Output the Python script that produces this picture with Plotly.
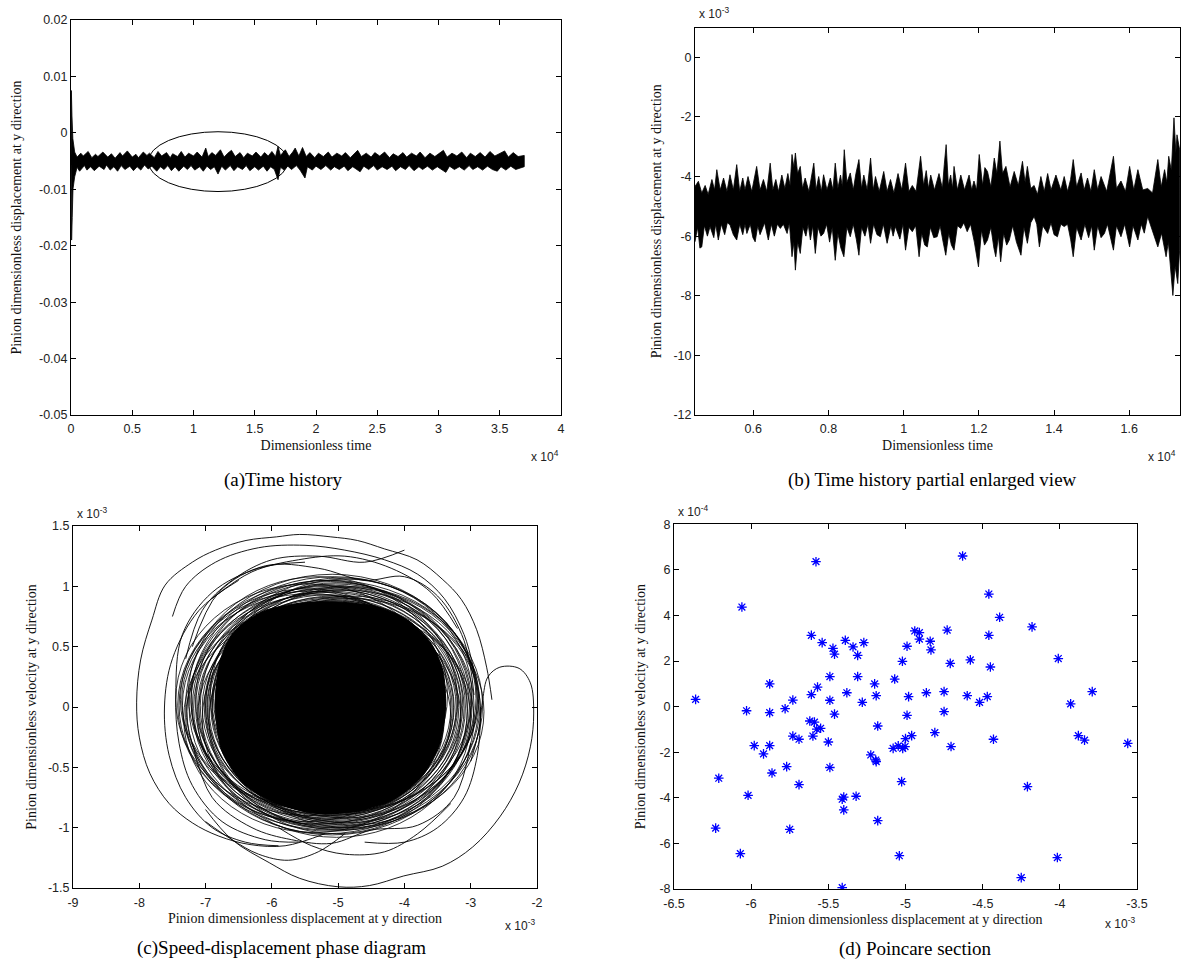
import plotly.graph_objects as go

W, H = 1186, 965

# ---------------- (a) time history : envelope of the signal (time in 1e4) ----------------
a_upper = [(0.000, -0.0050), (0.003, 0.0075), (0.008, 0.0030), (0.015, -0.0010), (0.030, -0.0034),
           (0.05, -0.0043), (0.08, -0.0036), (0.10, -0.0041), (0.14, -0.0033), (0.17, -0.0044),
           (0.20, -0.0038), (0.22, -0.0042), (0.26, -0.0034), (0.30, -0.0043), (0.33, -0.0037),
           (0.36, -0.0045), (0.40, -0.0035), (0.42, -0.0041), (0.46, -0.0032), (0.50, -0.0043),
           (0.53, -0.0038), (0.55, -0.0044), (0.59, -0.0034), (0.62, -0.0040), (0.64, -0.0036),
           (0.68, -0.0044), (0.71, -0.0033), (0.74, -0.0041), (0.78, -0.0035), (0.81, -0.0044),
           (0.83, -0.0037), (0.87, -0.0042), (0.90, -0.0033), (0.93, -0.0043), (0.96, -0.0036),
           (1.00, -0.0041), (1.03, -0.0034), (1.07, -0.0043), (1.10, -0.0027), (1.12, -0.0042),
           (1.15, -0.0035), (1.18, -0.0040), (1.22, -0.0030), (1.25, -0.0043), (1.28, -0.0036),
           (1.31, -0.0031), (1.34, -0.0042), (1.38, -0.0035), (1.41, -0.0044), (1.44, -0.0036),
           (1.48, -0.0041), (1.51, -0.0034), (1.55, -0.0043), (1.58, -0.0035), (1.61, -0.0041),
           (1.64, -0.0033), (1.67, -0.0042), (1.69, -0.0024), (1.71, -0.0040), (1.75, -0.0030),
           (1.78, -0.0042), (1.81, -0.0034), (1.83, -0.0027), (1.86, -0.0041), (1.89, -0.0026),
           (1.92, -0.0042), (1.95, -0.0035), (1.99, -0.0044), (2.02, -0.0036), (2.06, -0.0042),
           (2.10, -0.0034), (2.13, -0.0043), (2.17, -0.0036), (2.21, -0.0041), (2.24, -0.0035),
           (2.28, -0.0044), (2.31, -0.0037), (2.34, -0.0031), (2.37, -0.0042), (2.41, -0.0036),
           (2.45, -0.0043), (2.48, -0.0035), (2.52, -0.0041), (2.56, -0.0034), (2.60, -0.0044),
           (2.63, -0.0037), (2.67, -0.0042), (2.71, -0.0035), (2.74, -0.0043), (2.78, -0.0036),
           (2.82, -0.0041), (2.85, -0.0034), (2.89, -0.0044), (2.93, -0.0036), (2.97, -0.0042),
           (3.01, -0.0035), (3.04, -0.0031), (3.07, -0.0043), (3.11, -0.0036), (3.15, -0.0041),
           (3.19, -0.0034), (3.23, -0.0044), (3.26, -0.0036), (3.30, -0.0042), (3.34, -0.0035),
           (3.38, -0.0043), (3.42, -0.0033), (3.46, -0.0041), (3.50, -0.0036), (3.54, -0.0032),
           (3.57, -0.0043), (3.61, -0.0035), (3.65, -0.0042), (3.70, -0.0040)]
a_lower = [(0.000, -0.0050), (0.005, -0.0190), (0.010, -0.0150), (0.016, -0.0100), (0.030, -0.0078),
           (0.05, -0.0061), (0.07, -0.0068), (0.11, -0.0058), (0.13, -0.0066), (0.16, -0.0060),
           (0.19, -0.0067), (0.23, -0.0059), (0.27, -0.0065), (0.29, -0.0057), (0.32, -0.0066),
           (0.35, -0.0060), (0.38, -0.0068), (0.41, -0.0058), (0.44, -0.0065), (0.48, -0.0059),
           (0.51, -0.0067), (0.54, -0.0060), (0.57, -0.0066), (0.60, -0.0057), (0.63, -0.0064),
           (0.66, -0.0059), (0.70, -0.0068), (0.73, -0.0060), (0.76, -0.0065), (0.79, -0.0058),
           (0.82, -0.0067), (0.85, -0.0060), (0.88, -0.0068), (0.92, -0.0059), (0.95, -0.0065),
           (0.98, -0.0058), (1.01, -0.0066), (1.05, -0.0060), (1.08, -0.0068), (1.11, -0.0059),
           (1.14, -0.0065), (1.17, -0.0060), (1.20, -0.0073), (1.23, -0.0059), (1.26, -0.0066),
           (1.30, -0.0058), (1.33, -0.0067), (1.36, -0.0060), (1.40, -0.0065), (1.43, -0.0058),
           (1.46, -0.0067), (1.50, -0.0060), (1.53, -0.0066), (1.57, -0.0059), (1.60, -0.0068),
           (1.63, -0.0060), (1.66, -0.0065), (1.69, -0.0083), (1.71, -0.0061), (1.74, -0.0066),
           (1.77, -0.0059), (1.80, -0.0065), (1.84, -0.0058), (1.87, -0.0066), (1.91, -0.0080),
           (1.93, -0.0060), (1.97, -0.0066), (2.00, -0.0059), (2.04, -0.0065), (2.08, -0.0058),
           (2.12, -0.0066), (2.15, -0.0060), (2.19, -0.0065), (2.23, -0.0059), (2.26, -0.0067),
           (2.30, -0.0060), (2.33, -0.0064), (2.36, -0.0069), (2.39, -0.0059), (2.43, -0.0065),
           (2.47, -0.0058), (2.50, -0.0066), (2.54, -0.0060), (2.58, -0.0065), (2.62, -0.0059),
           (2.65, -0.0067), (2.69, -0.0060), (2.73, -0.0065), (2.76, -0.0058), (2.80, -0.0067),
           (2.84, -0.0060), (2.87, -0.0065), (2.91, -0.0059), (2.95, -0.0066), (2.99, -0.0060),
           (3.03, -0.0065), (3.06, -0.0070), (3.09, -0.0059), (3.13, -0.0065), (3.17, -0.0060),
           (3.21, -0.0066), (3.25, -0.0058), (3.28, -0.0065), (3.32, -0.0060), (3.36, -0.0066),
           (3.40, -0.0059), (3.44, -0.0065), (3.48, -0.0068), (3.51, -0.0060), (3.55, -0.0066),
           (3.59, -0.0059), (3.63, -0.0065), (3.70, -0.0060)]
a_ellipse_t = [0.63, 1.77]
a_ellipse_v = [-0.0104, 0.0002]
a_xticks = [0, 0.5, 1, 1.5, 2, 2.5, 3, 3.5, 4]
a_xlabels = ["0", "0.5", "1", "1.5", "2", "2.5", "3", "3.5", "4"]
a_yticks = [-0.05, -0.04, -0.03, -0.02, -0.01, 0, 0.01, 0.02]
a_ylabels = ["-0.05", "-0.04", "-0.03", "-0.02", "-0.01", "0", "0.01", "0.02"]

# ---------------- (b) enlarged time history (time 1e4, displacement 1e-3) ----------------
b_upper = [(0.445, -4.33), (0.454, -4.16), (0.463, -4.55), (0.472, -4.30), (0.480, -4.60), (0.490, -4.10),
           (0.497, -4.45), (0.503, -3.77), (0.512, -4.45), (0.521, -4.05), (0.530, -4.50), (0.538, -3.94),
           (0.547, -4.45), (0.556, -3.60), (0.564, -4.50), (0.572, -4.05), (0.578, -4.45), (0.586, -4.00),
           (0.596, -4.50), (0.609, -3.66), (0.618, -4.45), (0.627, -4.10), (0.636, -4.50), (0.645, -3.55),
           (0.652, -4.45), (0.660, -4.10), (0.667, -4.50), (0.676, -3.95), (0.684, -4.40), (0.692, -3.90),
           (0.698, -4.30), (0.703, -3.26), (0.708, -3.70), (0.712, -3.21), (0.718, -3.90), (0.725, -3.66),
           (0.731, -4.40), (0.738, -4.05), (0.748, -4.50), (0.755, -3.90), (0.761, -3.55), (0.767, -4.45),
           (0.774, -4.00), (0.781, -4.50), (0.787, -3.94), (0.796, -4.45), (0.805, -4.05), (0.812, -4.45),
           (0.818, -3.55), (0.825, -4.40), (0.832, -3.95), (0.837, -4.35), (0.842, -3.10), (0.849, -4.20),
           (0.858, -3.88), (0.866, -4.45), (0.873, -3.90), (0.881, -3.43), (0.888, -4.40), (0.894, -3.95),
           (0.903, -4.45), (0.912, -3.38), (0.919, -4.45), (0.925, -4.00), (0.935, -4.50), (0.947, -3.83),
           (0.956, -4.50), (0.965, -4.10), (0.974, -4.55), (0.985, -3.90), (0.995, -4.45), (1.005, -3.55),
           (1.014, -4.50), (1.023, -4.30), (1.033, -4.50), (1.045, -3.32), (1.053, -4.30), (1.060, -3.80),
           (1.066, -4.40), (1.072, -3.95), (1.082, -4.45), (1.094, -3.90), (1.103, -4.40), (1.108, -3.60),
           (1.113, -2.93), (1.119, -4.30), (1.125, -3.95), (1.130, -4.40), (1.134, -3.66), (1.143, -4.45),
           (1.152, -3.95), (1.162, -4.45), (1.174, -3.95), (1.181, -4.45), (1.187, -4.15), (1.194, -4.45),
           (1.201, -3.26), (1.210, -4.30), (1.216, -3.70), (1.223, -3.83), (1.232, -4.35), (1.241, -3.38),
           (1.248, -3.90), (1.256, -2.81), (1.263, -3.90), (1.272, -3.66), (1.283, -4.35), (1.294, -3.83),
           (1.305, -4.30), (1.316, -3.49), (1.323, -4.20), (1.329, -3.66), (1.338, -4.40), (1.347, -4.30),
           (1.356, -4.60), (1.365, -4.00), (1.374, -4.50), (1.383, -3.90), (1.392, -4.45), (1.405, -3.95),
           (1.418, -4.45), (1.427, -4.00), (1.436, -4.50), (1.444, -4.10), (1.451, -3.43), (1.460, -4.35),
           (1.472, -3.88), (1.480, -4.45), (1.489, -4.05), (1.498, -4.50), (1.507, -3.77), (1.516, -4.45),
           (1.525, -4.00), (1.540, -4.50), (1.549, -3.95), (1.558, -3.32), (1.566, -4.40), (1.578, -4.15),
           (1.590, -4.50), (1.601, -3.66), (1.612, -4.45), (1.623, -3.77), (1.636, -4.45), (1.649, -4.40),
           (1.662, -4.55), (1.676, -3.43), (1.685, -4.35), (1.694, -3.77), (1.700, -4.20), (1.705, -3.32),
           (1.712, -3.80), (1.719, -2.03), (1.724, -3.20), (1.727, -2.60), (1.734, -3.10)]
b_lower = [(0.445, -6.19), (0.452, -5.70), (0.458, -6.40), (0.463, -6.36), (0.470, -5.65), (0.478, -6.00),
           (0.485, -5.68), (0.495, -6.05), (0.500, -5.60), (0.507, -6.13), (0.515, -5.60), (0.524, -5.95),
           (0.531, -5.55), (0.538, -5.62), (0.547, -5.95), (0.556, -6.13), (0.564, -5.60), (0.572, -5.95),
           (0.578, -5.60), (0.583, -5.91), (0.592, -5.60), (0.599, -6.05), (0.605, -6.19), (0.612, -5.65),
           (0.618, -5.95), (0.623, -5.79), (0.630, -5.55), (0.640, -6.13), (0.648, -5.60), (0.656, -6.00),
           (0.664, -5.60), (0.672, -5.74), (0.680, -5.60), (0.690, -5.91), (0.696, -5.55), (0.703, -6.69),
           (0.708, -6.20), (0.712, -7.14), (0.718, -6.20), (0.725, -6.58), (0.732, -5.70), (0.740, -6.00),
           (0.746, -5.60), (0.752, -6.13), (0.758, -5.65), (0.765, -6.58), (0.772, -5.70), (0.780, -6.00),
           (0.787, -5.91), (0.795, -5.60), (0.803, -6.20), (0.810, -5.70), (0.818, -6.81), (0.825, -5.90),
           (0.833, -6.40), (0.841, -6.69), (0.849, -5.70), (0.858, -6.02), (0.866, -5.60), (0.874, -6.10),
           (0.881, -6.64), (0.888, -5.70), (0.897, -6.00), (0.905, -5.60), (0.912, -6.24), (0.920, -5.60),
           (0.929, -5.95), (0.938, -6.02), (0.946, -5.60), (0.956, -6.24), (0.966, -5.65), (0.972, -6.00),
           (0.978, -5.68), (0.990, -6.10), (0.998, -5.60), (1.005, -6.47), (1.014, -5.70), (1.023, -5.85),
           (1.032, -5.65), (1.041, -6.69), (1.048, -5.90), (1.056, -6.30), (1.063, -6.36), (1.071, -5.70),
           (1.080, -6.05), (1.089, -6.02), (1.097, -5.65), (1.105, -6.20), (1.112, -6.64), (1.120, -5.90),
           (1.127, -6.30), (1.134, -6.47), (1.143, -5.65), (1.152, -5.74), (1.160, -5.55), (1.169, -5.85),
           (1.178, -5.60), (1.188, -6.20), (1.199, -7.03), (1.207, -5.80), (1.215, -6.30), (1.223, -6.13),
           (1.232, -5.70), (1.240, -6.40), (1.245, -6.69), (1.252, -6.00), (1.258, -6.86), (1.266, -5.90),
           (1.274, -6.30), (1.281, -6.13), (1.290, -5.65), (1.300, -6.20), (1.312, -6.64), (1.320, -5.70),
           (1.329, -6.24), (1.338, -5.55), (1.347, -5.34), (1.354, -5.60), (1.361, -6.36), (1.370, -5.65),
           (1.383, -5.91), (1.392, -5.55), (1.400, -5.95), (1.409, -6.02), (1.418, -5.60), (1.427, -5.68),
           (1.436, -5.60), (1.444, -6.10), (1.451, -6.69), (1.460, -5.70), (1.472, -6.13), (1.482, -5.60),
           (1.492, -6.05), (1.500, -5.65), (1.507, -6.47), (1.516, -5.65), (1.525, -6.05), (1.534, -5.91),
           (1.542, -5.60), (1.550, -6.00), (1.558, -6.47), (1.566, -5.65), (1.578, -6.02), (1.588, -5.60),
           (1.601, -6.36), (1.610, -5.65), (1.623, -6.13), (1.632, -5.60), (1.640, -5.90), (1.649, -5.34),
           (1.658, -5.70), (1.667, -6.00), (1.676, -6.36), (1.686, -5.90), (1.698, -6.69), (1.704, -6.20),
           (1.710, -7.00), (1.716, -7.99), (1.722, -7.00), (1.729, -7.59), (1.734, -6.47)]
b_xticks = [0.6, 0.8, 1.0, 1.2, 1.4, 1.6]
b_xlabels = ["0.6", "0.8", "1", "1.2", "1.4", "1.6"]
b_yticks = [-12, -10, -8, -6, -4, -2, 0]
b_ylabels = ["-12", "-10", "-8", "-6", "-4", "-2", "0"]

# ---------------- (c) phase diagram (displacement 1e-3, velocity 1e-3) ----------------
c_core = [(-6.85, 0.00), (-6.78, 0.38), (-6.58, 0.62), (-6.15, 0.79), (-5.58, 0.86), (-5.00, 0.87),
          (-4.42, 0.83), (-3.95, 0.72), (-3.60, 0.53), (-3.42, 0.30), (-3.38, 0.00), (-3.47, -0.32),
          (-3.74, -0.58), (-4.20, -0.78), (-4.77, -0.87), (-5.35, -0.88), (-5.93, -0.80), (-6.42, -0.64),
          (-6.75, -0.37), (-6.85, 0.00)]
ring_x_left = [-7.42, -7.35, -7.28, -7.22, -7.18, -7.12, -7.08, -7.05, -7.00, -6.98, -6.95, -6.92,
               -7.30, -7.15, -7.02, -6.90, -7.25, -7.10, -6.97, -7.20,
               -7.45, -7.38, -6.80, -6.85, -7.33, -6.88, -7.40, -6.95, -7.26, -6.82,
               -7.36, -7.00, -7.30, -6.90, -7.15, -7.05, -7.22, -6.86, -7.12, -6.93]
ring_x_right = [-2.82, -2.95, -3.05, -2.90, -3.10, -3.15, -3.00, -3.20, -3.12, -3.25, -3.18, -3.30,
                -2.88, -3.08, -3.22, -3.28, -2.98, -3.14, -3.26, -3.02,
                -3.45, -3.50, -2.85, -2.92, -3.40, -2.88, -3.55, -2.95, -3.35, -2.80,
                -3.48, -3.05, -3.30, -2.90, -3.20, -3.00, -3.38, -2.86, -3.15, -2.98]
ring_v_top = [1.05, 1.00, 0.98, 1.08, 0.95, 0.93, 1.02, 0.90, 0.97, 0.88, 0.92, 0.86,
              1.10, 0.99, 0.91, 0.87, 1.04, 0.96, 0.89, 1.01,
              1.02, 0.96, 0.92, 1.06, 0.85, 1.00, 0.98, 0.82, 1.08, 0.90,
              0.94, 1.03, 0.80, 0.97, 1.05, 0.88, 0.93, 0.99, 0.84, 1.07]
ring_v_bottom = [-1.02, -0.98, -1.05, -0.95, -0.97, -0.92, -1.00, -0.90, -0.94, -0.88, -0.93, -0.87,
                 -1.06, -0.99, -0.91, -0.89, -1.03, -0.96, -0.90, -1.01,
                 -0.90, -0.84, -1.00, -0.92, -1.04, -0.86, -0.95, -1.02, -0.88, -0.98,
                 -0.83, -1.05, -0.97, -0.87, -0.93, -1.08, -0.85, -0.96, -1.00, -0.89]
c_loop_1 = [(-2.68, 0.06), (-2.76, 0.33), (-2.91, 0.64), (-3.14, 0.89), (-3.43, 1.06), (-3.81, 1.22),
            (-4.30, 1.31), (-4.71, 1.38), (-5.11, 1.41), (-5.58, 1.43), (-5.93, 1.41), (-6.39, 1.38),
            (-6.85, 1.30), (-7.20, 1.20), (-7.61, 1.01), (-7.81, 0.72), (-7.98, 0.39), (-8.04, 0.04),
            (-8.00, -0.25), (-7.84, -0.55), (-7.55, -0.80), (-7.20, -0.96), (-6.80, -1.07), (-6.33, -1.14),
            (-5.80, -1.15), (-5.20, -1.05)]
c_loop_2 = [(-7.00, -0.85), (-6.60, -1.10), (-6.04, -1.29), (-5.58, -1.42), (-5.00, -1.49), (-4.53, -1.48),
            (-4.01, -1.40), (-3.43, -1.32), (-2.97, -1.16), (-2.56, -0.91), (-2.27, -0.63), (-2.10, -0.33),
            (-2.05, -0.05), (-2.10, 0.20), (-2.27, 0.32), (-2.56, 0.33), (-2.74, 0.25), (-2.82, 0.06),
            (-2.88, -0.20), (-3.00, -0.45)]
c_loop_3 = [(-7.50, 0.75), (-7.30, 1.00), (-6.85, 1.20), (-6.20, 1.32), (-5.50, 1.34), (-4.90, 1.30),
            (-4.30, 1.22), (-3.80, 1.10), (-3.40, 0.90), (-3.10, 0.60), (-2.95, 0.30)]
c_loop_4 = [(-6.50, 1.05), (-7.10, 0.80), (-7.50, 0.40), (-7.62, 0.00), (-7.55, -0.40), (-7.30, -0.75),
            (-6.90, -1.00), (-6.40, -1.12), (-5.90, -1.15)]
c_loop_5 = [(-5.50, 1.20), (-6.20, 1.15), (-6.90, 0.95), (-7.35, 0.60), (-7.45, 0.10), (-7.40, -0.30),
            (-7.20, -0.65), (-6.75, -0.95), (-6.10, -1.10), (-5.60, -1.12)]
c_loop_6 = [(-3.30, -0.80), (-3.80, -1.05), (-4.30, -1.20), (-4.90, -1.22), (-5.40, -1.15), (-5.90, -1.00)]
c_loop_7 = [(-7.00, -0.95), (-6.60, -1.10), (-6.20, -1.22), (-5.75, -1.27), (-5.30, -1.20), (-4.90, -1.05)]
c_loop_8 = [(-2.85, 0.00), (-2.90, -0.40), (-3.10, -0.75), (-3.50, -1.00), (-4.00, -1.12), (-4.60, -1.12)]
c_loop_9 = [(-6.90, 0.90), (-6.30, 1.12), (-5.60, 1.22), (-4.90, 1.25), (-4.20, 1.15), (-3.60, 0.95),
            (-3.20, 0.65)]
c_loop_10 = [(-7.20, 0.50), (-6.80, 0.95), (-6.10, 1.17), (-5.30, 1.15), (-4.60, 1.05), (-4.00, 1.08),
             (-3.50, 0.92), (-3.10, 0.55), (-2.95, 0.10)]
c_loop_11 = [(-3.00, -0.30), (-3.25, -0.75), (-3.80, -0.98), (-4.50, -1.02), (-5.10, -1.13), (-5.70, -1.10),
             (-6.30, -1.00), (-6.90, -0.75), (-7.20, -0.30)]
c_loop_12 = [(-4.00, 1.30), (-4.60, 1.20), (-5.30, 1.25), (-6.00, 1.22), (-6.60, 1.05), (-7.05, 0.80),
             (-7.30, 0.40)]
c_xticks = [-9, -8, -7, -6, -5, -4, -3, -2]
c_xlabels = ["-9", "-8", "-7", "-6", "-5", "-4", "-3", "-2"]
c_yticks = [-1.5, -1, -0.5, 0, 0.5, 1, 1.5]
c_ylabels = ["-1.5", "-1", "-0.5", "0", "0.5", "1", "1.5"]

# ---------------- (d) Poincare section (displacement 1e-3, velocity 1e-4) ----------------
d_points = [(-6.36, 0.32), (-6.06, 4.37), (-5.58, 6.36), (-6.03, -0.18), (-5.88, 1.00), (-5.88, -0.26),
            (-5.98, -1.71), (-5.88, -1.71), (-5.78, -0.09), (-5.73, 0.29), (-5.73, -1.29), (-5.69, -1.43),
            (-5.61, 0.53), (-5.57, 0.86), (-5.61, 3.13), (-5.54, 2.81), (-5.47, 2.56), (-5.46, 2.30),
            (-5.49, 1.32), (-5.49, 0.28), (-5.46, -0.33), (-5.62, -0.63), (-5.59, -0.68), (-5.575, -0.99),
            (-5.55, -0.95), (-5.60, -1.29), (-5.50, -1.55), (-5.39, 2.91), (-5.34, 2.62), (-5.31, 2.25),
            (-5.27, 2.81), (-5.31, 1.32), (-5.38, 0.61), (-5.28, 0.19), (-5.20, 1.00), (-5.19, 0.48),
            (-5.18, -0.85), (-5.07, 1.21), (-5.02, 1.99), (-4.99, 2.65), (-4.98, 0.44), (-4.99, -0.38),
            (-5.00, -1.40), (-4.63, 6.61), (-4.46, 4.94), (-4.39, 3.92), (-4.18, 3.50), (-4.46, 3.13),
            (-4.94, 3.32), (-4.91, 3.25), (-4.91, 2.96), (-4.84, 2.87), (-4.835, 2.49), (-4.73, 3.36),
            (-4.71, 1.90), (-4.58, 2.05), (-4.45, 1.74), (-4.01, 2.11), (-4.865, 0.61), (-4.75, 0.66),
            (-4.60, 0.48), (-4.52, 0.19), (-4.47, 0.44), (-3.93, 0.12), (-3.79, 0.66), (-4.75, -0.22),
            (-4.81, -1.14), (-4.96, -1.27), (-4.43, -1.43), (-3.88, -1.27), (-3.84, -1.47), (-3.56, -1.61),
            (-4.705, -1.75), (-5.08, -1.83), (-5.047, -1.72), (-5.018, -1.83), (-5.003, -1.75), (-5.92, -2.07),
            (-6.21, -3.14), (-6.02, -3.89), (-5.865, -2.91), (-5.77, -2.63), (-5.69, -3.42), (-6.23, -5.33),
            (-5.75, -5.38), (-6.07, -6.45), (-5.49, -2.67), (-5.41, -7.94), (-5.41, -4.06), (-5.40, -3.97),
            (-5.40, -4.53), (-5.32, -3.93), (-5.225, -2.12), (-5.193, -2.34), (-5.19, -2.41), (-5.18, -5.00),
            (-5.025, -3.29), (-5.04, -6.54), (-4.21, -3.51), (-4.016, -6.62), (-4.25, -7.50)]
d_xticks = [-6.5, -6, -5.5, -5, -4.5, -4, -3.5]
d_xlabels = ["-6.5", "-6", "-5.5", "-5", "-4.5", "-4", "-3.5"]
d_yticks = [-8, -6, -4, -2, 0, 2, 4, 6, 8]
d_ylabels = ["-8", "-6", "-4", "-2", "0", "2", "4", "6", "8"]

# ---------------- text ----------------
disp_title = "Pinion dimensionless displacement at y direction"
vel_title = "Pinion dimensionless velocity at y direction"
time_title = "Dimensionless time"
captions = ["(a)Time history", "(b) Time history partial enlarged view",
            "(c)Speed-displacement phase diagram", "(d) Poincare section"]

# ---------------- figure ----------------
SERIF = "Liberation Serif, Times New Roman, serif"
SANS = "Liberation Sans, Arial, sans-serif"


def xs(pairs):
    return [p[0] for p in pairs]


def ys(pairs):
    return [p[1] for p in pairs]


fig = go.Figure()

# (a) band
fig.add_trace(go.Scatter(x=xs(a_upper) + xs(a_lower)[::-1], y=ys(a_upper) + ys(a_lower)[::-1],
                         mode="lines", fill="toself", fillcolor="black",
                         line=dict(color="black", width=0.8), xaxis="x", yaxis="y", hoverinfo="skip"))
# (b) band
fig.add_trace(go.Scatter(x=xs(b_upper) + xs(b_lower)[::-1], y=ys(b_upper) + ys(b_lower)[::-1],
                         mode="lines", fill="toself", fillcolor="black",
                         line=dict(color="black", width=0.8), xaxis="x2", yaxis="y2", hoverinfo="skip"))
# (c) outer loops
for loop in [c_loop_1, c_loop_2, c_loop_3, c_loop_4, c_loop_5, c_loop_6, c_loop_7, c_loop_8, c_loop_9,
             c_loop_10, c_loop_11, c_loop_12]:
    fig.add_trace(go.Scatter(x=xs(loop), y=ys(loop), mode="lines",
                             line=dict(color="black", width=0.9, shape="spline", smoothing=1.0),
                             xaxis="x3", yaxis="y3", hoverinfo="skip"))
# (c) dense core
fig.add_trace(go.Scatter(x=xs(c_core), y=ys(c_core), mode="lines", fill="toself", fillcolor="black",
                         line=dict(color="black", width=1, shape="spline", smoothing=0.8),
                         xaxis="x3", yaxis="y3", hoverinfo="skip"))
# (d) Poincare points
fig.add_trace(go.Scatter(x=xs(d_points), y=ys(d_points), mode="markers",
                         marker=dict(symbol="asterisk-open", size=8, color="#0000ff",
                                     line=dict(color="#0000ff", width=1.3)),
                         xaxis="x4", yaxis="y4", hoverinfo="skip"))

shapes = [dict(type="circle", xref="x", yref="y", x0=a_ellipse_t[0], x1=a_ellipse_t[1],
               y0=a_ellipse_v[0], y1=a_ellipse_v[1], line=dict(color="black", width=1))]
for i in range(len(ring_x_left)):
    shapes.append(dict(type="circle", xref="x3", yref="y3", x0=ring_x_left[i], x1=ring_x_right[i],
                       y0=ring_v_bottom[i], y1=ring_v_top[i], line=dict(color="black", width=0.8),
                       layer="above"))


def px_x(p):
    return p / W


def px_y(p):
    return 1 - p / H


def axis(dom, rng, tv, tt, anchor, title, standoff, label_gap=0):
    return dict(domain=dom, range=rng, tickmode="array", tickvals=tv, ticktext=tt,
                ticks="inside", ticklen=5, tickwidth=1, tickcolor="black",
                showline=True, linewidth=1, linecolor="black", mirror="ticks",
                showgrid=False, zeroline=False, anchor=anchor, automargin=False,
                ticklabelstandoff=label_gap,
                tickfont=dict(family=SANS, size=12.5, color="#222"),
                title=dict(text=title, font=dict(family=SERIF, size=14, color="#111"), standoff=standoff))


layout = dict(
    width=W, height=H, margin=dict(l=0, r=0, t=0, b=0),
    paper_bgcolor="white", plot_bgcolor="white", showlegend=False,
    xaxis=axis([px_x(71), px_x(561)], [0, 4], a_xticks, a_xlabels, "y", time_title, 5, 2),
    yaxis=axis([px_y(415), px_y(20)], [-0.05, 0.02], a_yticks, a_ylabels, "x", disp_title, 14),
    xaxis2=axis([px_x(695), px_x(1180)], [0.445, 1.735], b_xticks, b_xlabels, "y2", time_title, 5, 2),
    yaxis2=axis([px_y(415), px_y(27.5)], [-12, 1], b_yticks, b_ylabels, "x2", disp_title, 8),
    xaxis3=axis([px_x(73), px_x(537)], [-9, -2], c_xticks, c_xlabels, "y3", disp_title, 4, 3),
    yaxis3=axis([px_y(888), px_y(526)], [-1.5, 1.5], c_yticks, c_ylabels, "x3", vel_title, 8),
    xaxis4=axis([px_x(674), px_x(1137)], [-6.5, -3.5], d_xticks, d_xlabels, "y4", disp_title, 4, 3),
    yaxis4=axis([px_y(889), px_y(524.3)], [-8, 8], d_yticks, d_ylabels, "x4", vel_title, 10),
    shapes=shapes,
)

annotations = []


def add_text(text, x, y, size, family, xanchor="center", color="#111"):
    annotations.append(dict(text=text, x=px_x(x), y=px_y(y), xref="paper", yref="paper",
                            xanchor=xanchor, yanchor="middle", showarrow=False,
                            font=dict(family=family, size=size, color=color)))


# captions
add_text(captions[0], 283, 480, 19, SERIF, color="black")
add_text(captions[1], 932, 480, 19, SERIF, color="black")
add_text(captions[2], 281, 948, 19, SERIF, color="black")
add_text(captions[3], 915, 949, 19, SERIF, color="black")
# exponent labels
add_text("x 10<sup>4</sup>", 561, 456, 12, SANS, xanchor="right", color="#222")
add_text("x 10<sup>4</sup>", 1178, 456, 12, SANS, xanchor="right", color="#222")
add_text("x 10<sup>-3</sup>", 697, 13, 12, SANS, xanchor="left", color="#222")
add_text("x 10<sup>-3</sup>", 537, 925, 12, SANS, xanchor="right", color="#222")
add_text("x 10<sup>-3</sup>", 75, 513, 12, SANS, xanchor="left", color="#222")
add_text("x 10<sup>-3</sup>", 1137, 923, 12, SANS, xanchor="right", color="#222")
add_text("x 10<sup>-4</sup>", 676, 511, 12, SANS, xanchor="left", color="#222")

layout["annotations"] = annotations
fig.update_layout(**layout)
fig.write_html("out.html", config={"displayModeBar": False},
               post_script="document.body.style.margin='0';document.body.style.overflow='hidden';")
